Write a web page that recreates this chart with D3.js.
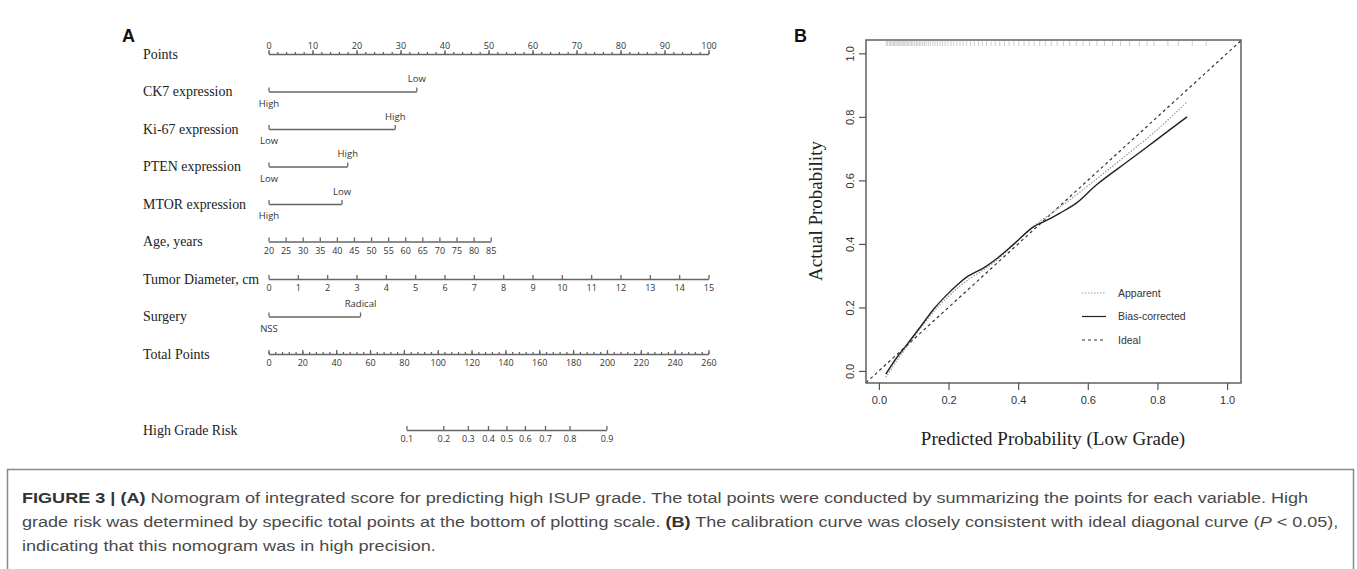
<!DOCTYPE html>
<html>
<head>
<meta charset="utf-8">
<script src="https://cdn.jsdelivr.net/npm/d3@7"></script>
<style>
  body { margin: 0; background: #fff; }
  svg { display: block; }
</style>
</head>
<body>
<script>
// ---- nomogram data (panel A) ----
const rowLabels = ["Points", "CK7 expression", "Ki-67 expression", "PTEN expression", "MTOR expression",
                   "Age, years", "Tumor Diameter, cm", "Surgery", "Total Points", "High Grade Risk"]
const pointTicks = [0, 10, 20, 30, 40, 50, 60, 70, 80, 90, 100]
const ck7Levels = ["High", "Low"],       ck7Points = [0, 33.6]
const ki67Levels = ["Low", "High"],      ki67Points = [0, 28.7]
const ptenLevels = ["Low", "High"],      ptenPoints = [0, 17.9]
const mtorLevels = ["High", "Low"],      mtorPoints = [0, 16.6]
const surgeryLevels = ["NSS", "Radical"], surgeryPoints = [0, 20.8]
const ageTicks = [20, 25, 30, 35, 40, 45, 50, 55, 60, 65, 70, 75, 80, 85]
const agePointRange = [0, 50.5]
const diamTicks = [0, 1, 2, 3, 4, 5, 6, 7, 8, 9, 10, 11, 12, 13, 14, 15]
const totalTicks = [0, 20, 40, 60, 80, 100, 120, 140, 160, 180, 200, 220, 240, 260]
const riskTicks = [0.1, 0.2, 0.3, 0.4, 0.5, 0.6, 0.7, 0.8, 0.9]
const riskTotalAt = [81.5, 199.7]   // total points where risk = 0.1 and 0.9

// ---- calibration data (panel B) ----
const calTicks = [0, 0.2, 0.4, 0.6, 0.8, 1.0]
const apparentX = [0.02, 0.05, 0.08, 0.12, 0.16, 0.2, 0.23, 0.26, 0.3, 0.34, 0.38, 0.44, 0.5, 0.55, 0.62, 0.7, 0.8, 0.885]
const apparentY = [-0.02, 0.03, 0.075, 0.135, 0.19, 0.235, 0.265, 0.29, 0.318, 0.35, 0.39, 0.452, 0.5, 0.54, 0.6, 0.67, 0.76, 0.847]
const biasX = [0.02, 0.05, 0.08, 0.12, 0.16, 0.2, 0.224, 0.253, 0.3, 0.34, 0.385, 0.443, 0.48, 0.52, 0.569, 0.626, 0.72, 0.8, 0.885]
const biasY = [-0.01, 0.04, 0.082, 0.14, 0.198, 0.245, 0.27, 0.296, 0.324, 0.355, 0.397, 0.453, 0.473, 0.497, 0.53, 0.587, 0.664, 0.73, 0.8]
const rugX = [0.021, 0.025, 0.03, 0.034, 0.038, 0.041, 0.045, 0.049, 0.052, 0.056, 0.06, 0.063, 0.067, 0.07,
  0.074, 0.078, 0.082, 0.086, 0.09, 0.094, 0.098, 0.103, 0.108, 0.112, 0.117, 0.121, 0.126, 0.131, 0.136,
  0.142, 0.148, 0.155, 0.161, 0.168, 0.176, 0.183, 0.19, 0.198, 0.207, 0.215, 0.224, 0.233, 0.242, 0.252,
  0.263, 0.274, 0.286, 0.297, 0.309, 0.322, 0.334, 0.347, 0.361, 0.374, 0.388, 0.402, 0.417, 0.431, 0.446,
  0.462, 0.478, 0.495, 0.512, 0.53, 0.548, 0.567, 0.586, 0.605, 0.626, 0.648, 0.671, 0.694, 0.72, 0.748,
  0.77, 0.79, 0.83, 0.86, 0.9, 0.94]
const legendNames = ["Apparent", "Bias-corrected", "Ideal"]

const captionLines = [
  [["FIGURE 3 | (A)", "b"], [" Nomogram of integrated score for predicting high ISUP grade. The total points were conducted by summarizing the points for each variable. High", ""]],
  [["grade risk was determined by specific total points at the bottom of plotting scale. ", ""], ["(B)", "b"], [" The calibration curve was closely consistent with ideal diagonal curve (", ""], ["P", "i"], [" < 0.05),", ""]],
  [["indicating that this nomogram was in high precision.", ""]]
]

const svg = d3.select("body").append("svg").attr("width", 1357).attr("height", 569)

const serif = "'Liberation Serif', 'Times New Roman', serif"
const sans = "'Liberation Sans', Arial, sans-serif"
const tickFont = "'Open Sans', sans-serif"
const axisCol = "#666"

// ================= Panel A =================
svg.append("text").attr("x", 122).attr("y", 42).text("A")
  .attr("font-family", sans).attr("font-weight", "bold").attr("font-size", 18).attr("fill", "#111")

let scPts = d3.scaleLinear().domain([0, 100]).range([268.5, 708.5])
let rowY = d3.scaleLinear().domain([0, 8]).range([54, 354])
let yOf = i => i < 9 ? rowY(i) : rowY(10) + 1

let nomo = svg.append("g")
rowLabels.forEach((lab, i) => {
  nomo.append("text").attr("x", 143).attr("y", yOf(i) + 5).text(lab)
    .attr("font-family", serif).attr("font-size", 15).attr("fill", "#222")
    .attr("transform", `translate(143,0) scale(0.93,1) translate(-143,0)`)
})

function styleAxis(g) {
  g.attr("font-family", tickFont).attr("font-size", 9)
  g.selectAll("path, line").attr("stroke", axisCol).attr("stroke-width", 1.3)
  g.selectAll("text").attr("fill", "#333")
}

// points axis (labels above)
let gPts = nomo.append("g").attr("transform", `translate(0,${yOf(0)})`)
gPts.call(d3.axisTop(scPts).tickValues(pointTicks).tickSize(4).tickSizeOuter(0).tickPadding(1))
gPts.append("g").call(d3.axisTop(scPts).tickValues(d3.range(0, 101, 2)).tickSize(2).tickFormat(""))
  .select(".domain").remove()
styleAxis(gPts)

// categorical rows
let cats = [[ck7Levels, ck7Points, 1], [ki67Levels, ki67Points, 2], [ptenLevels, ptenPoints, 3],
            [mtorLevels, mtorPoints, 4], [surgeryLevels, surgeryPoints, 7]]
cats.forEach(([levels, pts, row]) => {
  let sc = d3.scaleLinear().domain([pts[0], pts[1]]).range([scPts(pts[0]), scPts(pts[1])])
  let g = nomo.append("g").attr("transform", `translate(0,${yOf(row)})`)
  g.call(d3.axisBottom(sc).tickValues(pts).tickFormat((d, i) => levels[i]).tickSize(-4).tickSizeOuter(0).tickPadding(6))
  styleAxis(g)
  g.selectAll(".tick text").attr("font-size", 9.5)
    .attr("y", (d, i) => i === 0 ? 8.5 : -16)
})

// age
let scAge = d3.scaleLinear().domain([ageTicks[0], ageTicks[ageTicks.length - 1]])
  .range(agePointRange.map(scPts))
let gAge = nomo.append("g").attr("transform", `translate(0,${yOf(5)})`)
gAge.call(d3.axisBottom(scAge).tickValues(ageTicks).tickSize(-4).tickSizeOuter(0).tickPadding(6))
styleAxis(gAge)

// tumor diameter
let scDiam = d3.scaleLinear().domain([0, 15]).range(scPts.range())
let gDiam = nomo.append("g").attr("transform", `translate(0,${yOf(6)})`)
gDiam.call(d3.axisBottom(scDiam).tickValues(diamTicks).tickSize(-4).tickSizeOuter(0).tickPadding(6))
styleAxis(gDiam)

// total points
let scTot = d3.scaleLinear().domain([0, 260]).range(scPts.range())
let gTot = nomo.append("g").attr("transform", `translate(0,${yOf(8)})`)
gTot.call(d3.axisBottom(scTot).tickValues(totalTicks).tickSize(-4).tickSizeOuter(0).tickPadding(6))
gTot.append("g").call(d3.axisBottom(scTot).tickValues(d3.range(0, 261, 4)).tickSize(-2).tickFormat(""))
  .select(".domain").remove()
styleAxis(gTot)

// risk (logit scale mapped onto total points)
let logit = p => Math.log(p / (1 - p))
let scLogit = d3.scaleLinear().domain([logit(0.1), logit(0.9)]).range(riskTotalAt.map(scTot))
let scRisk = p => scLogit(logit(p))
scRisk.range = () => [scRisk(riskTicks[0]), scRisk(riskTicks[riskTicks.length - 1])]
scRisk.copy = () => scRisk
let gRisk = nomo.append("g").attr("transform", `translate(0,${yOf(9)})`)
gRisk.call(d3.axisBottom(scRisk).tickValues(riskTicks).tickSize(-4).tickSizeOuter(0).tickPadding(6))
styleAxis(gRisk)

// ================= Panel B =================
svg.append("text").attr("x", 794).attr("y", 42).text("B")
  .attr("font-family", sans).attr("font-weight", "bold").attr("font-size", 18).attr("fill", "#111")

let box = {l: 866, r: 1241, t: 40, b: 383}
let scX = d3.scaleLinear().domain([-0.037, 1.04]).range([box.l, box.r])
let scY = d3.scaleLinear().domain([-0.038, 1.042]).range([box.b, box.t])
let cal = svg.append("g")

// rug of predictions along the top
cal.append("g").selectAll("line").data(rugX).enter().append("line")
  .attr("x1", d => scX(d)).attr("x2", d => scX(d))
  .attr("y1", box.t + 1).attr("y2", box.t + 6)
  .attr("stroke", "#c8c8c8").attr("stroke-width", 0.9)

// ideal
cal.append("line")
  .attr("x1", scX(-0.037)).attr("y1", scY(-0.037)).attr("x2", scX(1.04)).attr("y2", scY(1.04))
  .attr("stroke", "#333").attr("stroke-width", 1.2).attr("stroke-dasharray", "3,3")

let makeLine = d3.line().x(d => scX(d[0])).y(d => scY(d[1])).curve(d3.curveCatmullRom)
cal.append("path").attr("d", makeLine(apparentX.map((x, i) => [x, apparentY[i]])))
  .attr("fill", "none").attr("stroke", "#999").attr("stroke-width", 1.2).attr("stroke-dasharray", "1.5,1.5")
cal.append("path").attr("d", makeLine(biasX.map((x, i) => [x, biasY[i]])))
  .attr("fill", "none").attr("stroke", "#222").attr("stroke-width", 1.4)

// axes
let gx = cal.append("g").attr("transform", `translate(0,${box.b})`)
  .call(d3.axisBottom(scX).tickValues(calTicks).tickFormat(d3.format(".1f")).tickSize(7).tickPadding(6))
let gy = cal.append("g").attr("transform", `translate(${box.l},0)`)
  .call(d3.axisLeft(scY).tickValues(calTicks).tickFormat(d3.format(".1f")).tickSize(7))
;[gx, gy].forEach(g => {
  g.select(".domain").remove()
  g.attr("font-family", sans).attr("font-size", 11)
  g.selectAll("line").attr("stroke", "#555").attr("stroke-width", 1.2)
  g.selectAll("text").attr("fill", "#333")
})
gy.selectAll(".tick text").attr("x", 0).attr("dy", 0)
  .attr("transform", "translate(-12,0) rotate(-90)").style("text-anchor", "middle")

cal.append("rect").attr("x", box.l).attr("y", box.t).attr("width", box.r - box.l).attr("height", box.b - box.t)
  .attr("fill", "none").attr("stroke", "#555").attr("stroke-width", 1.4)

cal.append("text").attr("x", 1053).attr("y", 445).attr("text-anchor", "middle")
  .text("Predicted Probability (Low Grade)").attr("font-family", serif).attr("font-size", 19).attr("fill", "#222")
cal.append("text").attr("transform", "translate(822,211) rotate(-90)").attr("text-anchor", "middle")
  .text("Actual Probability").attr("font-family", serif).attr("font-size", 19).attr("fill", "#222")

// legend
let legY = d3.scalePoint().domain(legendNames).range([293, 340])
let dashes = {"Apparent": "1.5,1.5", "Bias-corrected": null, "Ideal": "3,3"}
let lcol = {"Apparent": "#999", "Bias-corrected": "#222", "Ideal": "#333"}
let leg = cal.append("g").selectAll("g").data(legendNames).enter().append("g")
  .attr("transform", d => `translate(1082,${legY(d)})`)
leg.append("line").attr("x1", 0).attr("x2", 24).attr("stroke", d => lcol[d])
  .attr("stroke-width", 1.2).attr("stroke-dasharray", d => dashes[d])
leg.append("text").attr("x", 36).attr("dy", "0.35em").text(d => d)
  .attr("font-family", sans).attr("font-size", 10.5).attr("fill", "#333")

// ================= caption =================
svg.append("rect").attr("x", 7.5).attr("y", 469.5).attr("width", 1346).attr("height", 110)
  .attr("fill", "none").attr("stroke", "#888").attr("stroke-width", 1.5)
let capBase = [503, 527, 551]
let capWidth = [1288, 1317, null]
let kFirst = 1
captionLines.forEach((parts, i) => {
  let t = svg.append("text").attr("font-family", sans).attr("font-size", 14.5).attr("fill", "#4a4a4a")
  parts.forEach(([s, f]) => {
    let sp = t.append("tspan").text(s)
    if (f === "b") sp.attr("font-weight", "bold").attr("fill", "#333")
    if (f === "i") sp.attr("font-style", "italic")
  })
  let w = t.node().getComputedTextLength()
  let k = capWidth[i] ? capWidth[i] / w : kFirst
  if (i === 0) kFirst = k
  t.attr("transform", `translate(22,${capBase[i]}) scale(${k},1)`)
})
</script>
</body>
</html>
